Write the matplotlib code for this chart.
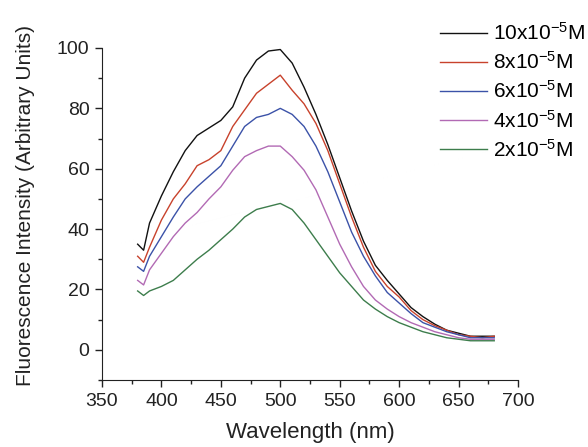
import matplotlib
matplotlib.use('Agg')
import matplotlib.pyplot as plt
from matplotlib.ticker import MultipleLocator

plt.rcParams['font.family'] = ['Liberation Sans', 'DejaVu Sans']
plt.rcParams['mathtext.fontset'] = 'custom'
plt.rcParams['mathtext.rm'] = 'Liberation Sans'
plt.rcParams['mathtext.it'] = 'Liberation Sans:italic'

wavelength = [380, 385, 390, 400, 410, 420, 430, 440, 450, 460, 470, 480, 490, 500,
              510, 520, 530, 540, 550, 560, 570, 580, 590, 600, 610, 620, 630, 640,
              650, 660, 670, 680]

conc_10 = [35, 33, 42, 51, 59, 66, 71, 73.5, 76, 80.5, 90, 96, 99, 99.5,
           95, 87, 78, 68, 57, 46, 36, 28, 23, 18.5, 14, 11, 8.5, 6.5,
           5.5, 4.5, 4.5, 4.5]
conc_8 = [31, 29, 34, 43, 50, 55, 61, 63, 66, 74, 79.5, 85, 88, 91,
          86, 81.5, 75, 66, 55, 44, 34, 26, 21, 17.5, 13, 10, 8, 6.5,
          5, 4.5, 4, 4.5]
conc_6 = [27.5, 26, 31, 37.5, 44, 50, 54, 57.5, 61, 67.5, 74, 77, 78, 80,
          78, 74, 67.5, 59, 49, 39, 31, 24.5, 19, 15.5, 12, 9, 7.5, 6,
          5, 4, 4, 4]
conc_4 = [23, 21.5, 26.5, 32, 37.5, 42, 45.5, 50, 54, 59.5, 64, 66, 67.5, 67.5,
          64, 59.5, 53, 44, 35, 27.5, 21, 16.5, 13.5, 11, 9, 7.5, 6, 5,
          4, 3.5, 3.5, 3.5]
conc_2 = [19.5, 18, 19.5, 21, 23, 26.5, 30, 33, 36.5, 40, 44, 46.5, 47.5, 48.5,
          46.5, 42, 36.5, 31, 25.5, 21, 16.5, 13.5, 11, 9, 7.5, 6, 5, 4,
          3.5, 3, 3, 3]

series = [
    (conc_10, '#111111', '10x10$^{\\mathrm{-5}}$M'),
    (conc_8, '#c8422c', '8x10$^{\\mathrm{-5}}$M'),
    (conc_6, '#3b52a8', '6x10$^{\\mathrm{-5}}$M'),
    (conc_4, '#b26ab4', '4x10$^{\\mathrm{-5}}$M'),
    (conc_2, '#3d7d4c', '2x10$^{\\mathrm{-5}}$M'),
]

fig = plt.figure(figsize=(5.88, 4.47), dpi=100)
ax = fig.add_axes([102 / 588, 1 - 380 / 447, 416 / 588, 332 / 447])

for values, color, label in series:
    ax.plot(wavelength, values, color=color, lw=1.0, label=label)

ax.set_xlim(350, 700)
ax.set_ylim(-10, 100)
ax.xaxis.set_major_locator(MultipleLocator(50))
ax.xaxis.set_minor_locator(MultipleLocator(25))
ax.yaxis.set_minor_locator(MultipleLocator(10))
ax.set_yticks([0, 20, 40, 60, 80, 100])
ax.tick_params(which='major', direction='out', length=5, width=1, labelsize=14,
               colors='#222222', pad=4)
ax.tick_params(which='minor', direction='out', length=3, width=1, colors='#222222')
ax.spines['top'].set_visible(False)
ax.spines['right'].set_visible(False)
for s in ('left', 'bottom'):
    ax.spines[s].set_color('#222222')

ax.set_xlabel('Wavelength (nm)', fontsize=16, color='#222222')
ax.set_ylabel('Fluorescence Intensity (Arbitrary Units)', fontsize=15, color='#222222')
ax.xaxis.set_label_coords(0.501, -0.127)
ax.yaxis.set_label_coords(-0.161, 0.527)

fig.legend(loc='upper left', bbox_to_anchor=(440 / 588, 1 - 22 / 447), frameon=False,
           fontsize=15, handlelength=2.25, handletextpad=0.3, labelspacing=0.35,
           borderpad=0, borderaxespad=0)

fig.savefig('out.png', dpi=100)
